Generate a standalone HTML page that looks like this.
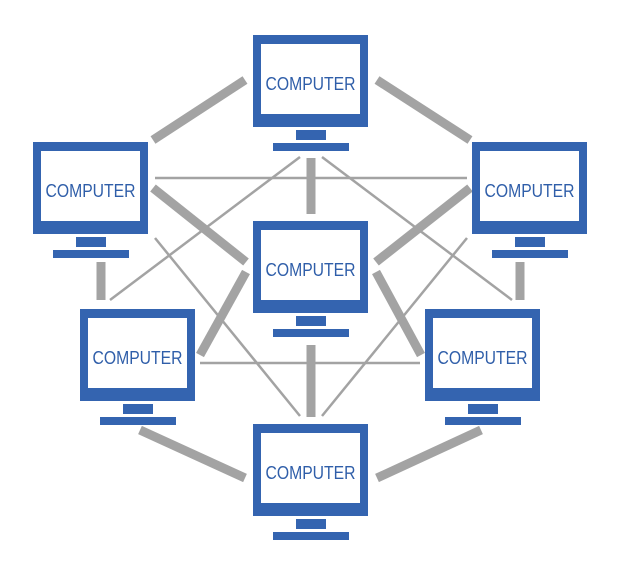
<!DOCTYPE html>
<html><head><style>
body{margin:0;background:#fff;}
svg{display:block;}
text{font-family:"Liberation Sans",sans-serif;font-size:18px;fill:#2f5ea9;}
</style></head><body>
<svg width="620" height="576" viewBox="0 0 620 576">
<g stroke="#a3a3a3" stroke-width="2.5" fill="none">
<line x1="155" y1="178" x2="467" y2="178"/>
<line x1="200" y1="363" x2="420" y2="363"/>
<line x1="155" y1="238" x2="300" y2="416"/>
<line x1="467" y1="238" x2="322" y2="416"/>
<line x1="110" y1="300" x2="300" y2="157"/>
<line x1="512" y1="300" x2="322" y2="157"/>
</g>
<g stroke="#a3a3a3" stroke-width="9" fill="none">
<line x1="245" y1="80" x2="153" y2="140"/>
<line x1="377" y1="80" x2="470" y2="140"/>
<line x1="311" y1="158" x2="311" y2="214"/>
<line x1="153" y1="188" x2="246" y2="262"/>
<line x1="470" y1="188" x2="376" y2="262"/>
<line x1="101" y1="262" x2="101" y2="300"/>
<line x1="520" y1="262" x2="520" y2="300"/>
<line x1="246" y1="272" x2="200" y2="355"/>
<line x1="376" y1="272" x2="421" y2="355"/>
<line x1="311" y1="345" x2="311" y2="417"/>
<line x1="140" y1="430" x2="245" y2="478"/>
<line x1="481" y1="430" x2="377" y2="478"/>
</g>
<defs>
<g id="pc">
<rect x="0" y="0" width="115" height="92" fill="#3464b0"/>
<rect x="8" y="9" width="99" height="70" fill="#fff"/>
<rect x="43" y="95" width="30" height="10" fill="#3464b0"/>
<rect x="20" y="108" width="76" height="8" fill="#3464b0"/>
</g>
</defs>
<use href="#pc" x="253" y="35"/>
<use href="#pc" x="33" y="142"/>
<use href="#pc" x="472" y="142"/>
<use href="#pc" x="253" y="221"/>
<use href="#pc" x="80" y="309"/>
<use href="#pc" x="425" y="309"/>
<use href="#pc" x="253" y="424"/>
<g text-anchor="middle">
<text x="310.5" y="90" textLength="90" lengthAdjust="spacingAndGlyphs">COMPUTER</text>
<text x="90.5" y="197" textLength="90" lengthAdjust="spacingAndGlyphs">COMPUTER</text>
<text x="529.5" y="197" textLength="90" lengthAdjust="spacingAndGlyphs">COMPUTER</text>
<text x="310.5" y="276" textLength="90" lengthAdjust="spacingAndGlyphs">COMPUTER</text>
<text x="137.5" y="364" textLength="90" lengthAdjust="spacingAndGlyphs">COMPUTER</text>
<text x="482.5" y="364" textLength="90" lengthAdjust="spacingAndGlyphs">COMPUTER</text>
<text x="310.5" y="479" textLength="90" lengthAdjust="spacingAndGlyphs">COMPUTER</text>
</g>
</svg>
</body></html>
